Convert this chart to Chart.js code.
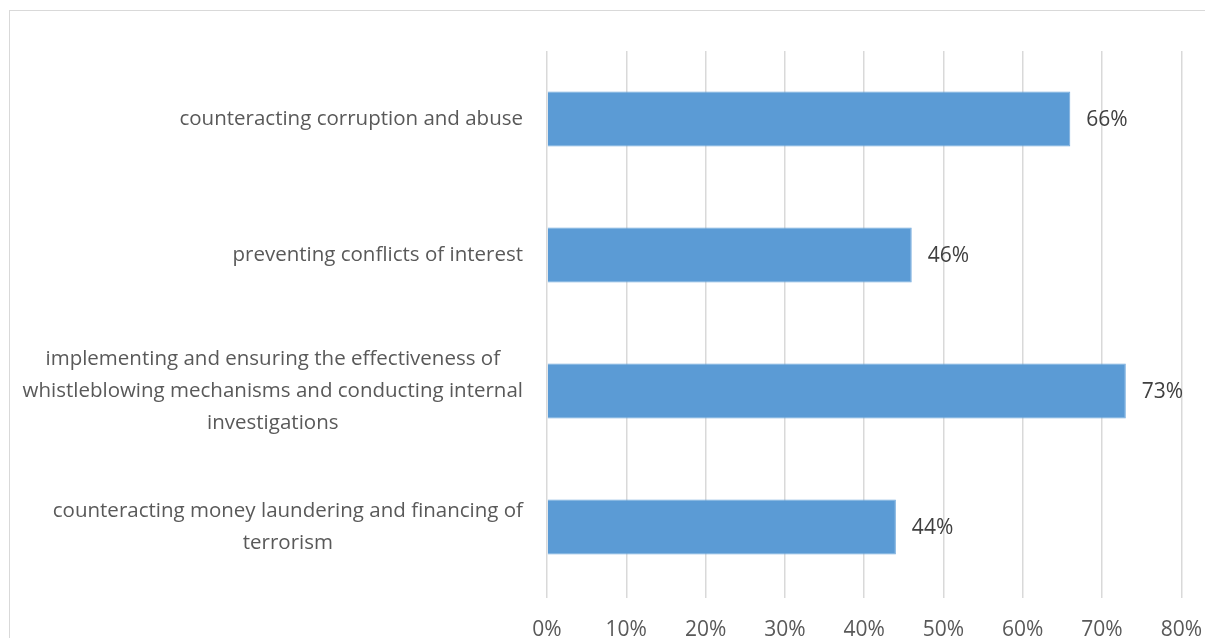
<!DOCTYPE html>
<html>
<head>
<meta charset="utf-8">
<script src="https://cdn.jsdelivr.net/npm/chart.js@4.4.1/dist/chart.umd.min.js"></script>
<style>
  html, body { margin: 0; padding: 0; background: #fff; overflow: hidden; }
  #frame {
    position: absolute; left: 9px; top: 10px;
    width: 1210px; height: 640px;
    border: 1.5px solid #d9d9d9;
  }
  #wrap { position: absolute; left: 0; top: 0; width: 1221px; height: 638px; }
</style>
</head>
<body>
<div id="frame"></div>
<div id="wrap"><canvas id="chartAreas"></canvas></div>
<script>
// Compliance areas, share of answers
const categories = [
  ['counteracting corruption and abuse'],
  ['preventing conflicts of interest'],
  ['implementing and ensuring the effectiveness of', 'whistleblowing mechanisms and conducting internal', 'investigations'],
  ['counteracting money laundering and financing of', 'terrorism']
];
const shares = [66, 46, 73, 44];
const xTicks = [0, 10, 20, 30, 40, 50, 60, 70, 80];

const fontFamily = '"Open Sans", "Noto Sans", sans-serif';

// value labels at the end of every bar, category labels centred line by line
const barLabels = {
  id: 'barLabels',
  afterDatasetsDraw(chart) {
    const ctx = chart.ctx;
    const meta = chart.getDatasetMeta(0);
    const yScale = chart.scales.y;
    ctx.save();
    ctx.textBaseline = 'middle';

    ctx.font = '21px ' + fontFamily;
    ctx.fillStyle = '#404040';
    ctx.textAlign = 'left';
    meta.data.forEach((bar, i) => {
      ctx.fillText(shares[i] + '%', bar.x + 16, bar.y + 1);
    });

    ctx.font = '20.5px ' + fontFamily;
    ctx.fillStyle = '#595959';
    ctx.textAlign = 'center';
    const lineH = 32;
    const rightEdge = yScale.right - 24;
    categories.forEach((lines, i) => {
      const widest = Math.max(...lines.map(s => ctx.measureText(s).width));
      const cx = rightEdge - widest / 2;
      const cy = yScale.getPixelForValue(i);
      const y0 = cy - (lines.length - 1) * lineH / 2;
      lines.forEach((s, k) => ctx.fillText(s, cx, y0 + k * lineH));
    });
    ctx.restore();
  }
};

const ctx_areas = document.getElementById('chartAreas');

new Chart(ctx_areas, {
  type: 'bar',
  data: {
    labels: categories,
    datasets: [{
      data: shares,
      backgroundColor: '#5b9bd5',
      borderColor: '#6fa8dc',
      borderWidth: 1,
      categoryPercentage: 0.8,
      barPercentage: 0.505
    }]
  },
  options: {
    indexAxis: 'y',
    responsive: true,
    maintainAspectRatio: false,
    animation: false,
    layout: {
      padding: { top: 51, right: 13, bottom: 0, left: 0 }
    },
    scales: {
      x: {
        min: 0,
        max: 80,
        afterBuildTicks(axis) {
          axis.ticks = xTicks.map(v => ({ value: v }));
        },
        afterFit(axis) { axis.height = 43; },
        border: { display: false },
        grid: {
          color: '#d9d9d9',
          lineWidth: 1.5,
          drawTicks: true,
          tickLength: 3
        },
        ticks: {
          color: '#595959',
          font: { family: fontFamily, size: 21 },
          padding: 19,
          maxRotation: 0,
          callback: v => v + '%'
        }
      },
      y: {
        afterFit(axis) { axis.width = 547; },
        border: { display: false },
        grid: { display: false },
        ticks: { display: false }
      }
    },
    plugins: {
      legend: { display: false },
      tooltip: { enabled: false }
    }
  },
  plugins: [barLabels]
});
</script>
</body>
</html>
